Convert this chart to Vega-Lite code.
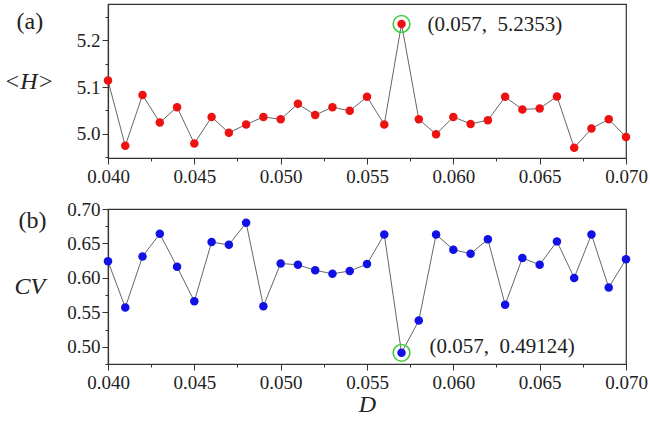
{
  "$schema": "https://vega.github.io/schema/vega-lite/v6.json",
  "padding": {"left": 2, "top": 3, "right": 5, "bottom": 0},
  "background": "white",
  "bounds": "flush",
  "spacing": 51,
  "datasets": {
    "series": [
      {"D": 0.040, "H": 5.114, "CV": 0.624},
      {"D": 0.041, "H": 4.974, "CV": 0.557},
      {"D": 0.042, "H": 5.083, "CV": 0.631},
      {"D": 0.043, "H": 5.024, "CV": 0.664},
      {"D": 0.044, "H": 5.057, "CV": 0.616},
      {"D": 0.045, "H": 4.979, "CV": 0.566},
      {"D": 0.046, "H": 5.036, "CV": 0.652},
      {"D": 0.047, "H": 5.002, "CV": 0.648},
      {"D": 0.048, "H": 5.020, "CV": 0.680},
      {"D": 0.049, "H": 5.036, "CV": 0.559},
      {"D": 0.050, "H": 5.031, "CV": 0.621},
      {"D": 0.051, "H": 5.064, "CV": 0.619},
      {"D": 0.052, "H": 5.040, "CV": 0.611},
      {"D": 0.053, "H": 5.057, "CV": 0.606},
      {"D": 0.054, "H": 5.049, "CV": 0.610},
      {"D": 0.055, "H": 5.079, "CV": 0.620},
      {"D": 0.056, "H": 5.020, "CV": 0.663},
      {"D": 0.057, "H": 5.2353, "CV": 0.49124},
      {"D": 0.058, "H": 5.031, "CV": 0.538},
      {"D": 0.059, "H": 4.999, "CV": 0.663},
      {"D": 0.060, "H": 5.036, "CV": 0.641},
      {"D": 0.061, "H": 5.021, "CV": 0.635},
      {"D": 0.062, "H": 5.029, "CV": 0.656},
      {"D": 0.063, "H": 5.079, "CV": 0.561},
      {"D": 0.064, "H": 5.052, "CV": 0.629},
      {"D": 0.065, "H": 5.054, "CV": 0.619},
      {"D": 0.066, "H": 5.080, "CV": 0.653},
      {"D": 0.067, "H": 4.970, "CV": 0.600},
      {"D": 0.068, "H": 5.011, "CV": 0.663},
      {"D": 0.069, "H": 5.031, "CV": 0.586},
      {"D": 0.070, "H": 4.993, "CV": 0.627}
    ],
    "peakH": [{"D": 0.057, "H": 5.2353, "label": "(0.057,\u00a0 5.2353)"}],
    "dipCV": [{"D": 0.057, "CV": 0.49124, "label": "(0.057,\u00a0 0.49124)"}]
  },
  "vconcat": [
    {
      "width": 518,
      "height": 154,
      "resolve": {"axis": {"y": "independent"}},
      "layer": [
        {
          "data": {"name": "series"},
          "mark": {"type": "line", "color": "#666666", "strokeWidth": 1},
          "encoding": {
            "x": {"field": "D", "type": "quantitative", "scale": {"domain": [0.04, 0.07], "nice": false, "zero": false},
                  "axis": {"values": [0.04, 0.0425, 0.045, 0.0475, 0.05, 0.0525, 0.055, 0.0575, 0.06, 0.0625, 0.065, 0.0675, 0.07],
                           "labelExpr": "abs(datum.value*200-round(datum.value*200))<0.01 ? format(datum.value, '.3f') : ''",
                           "tickSize": {"condition": {"test": "abs(datum.value*200-round(datum.value*200))<0.01", "value": 6}, "value": 3},
                           "labelOverlap": false,
                           "title": null}},
            "y": {"field": "H", "type": "quantitative", "scale": {"domain": [4.948, 5.278], "nice": false, "zero": false},
                  "axis": {"orient": "left", "values": [5.0, 5.1, 5.2], "format": ".1f", "tickSize": 6,
                           "labelOverlap": false,
                           "title": "<H>", "titleFontStyle": "italic", "titlePadding": 23}}
          }
        },
        {
          "data": {"name": "series"},
          "mark": {"type": "circle", "color": "#ee1111", "opacity": 1, "size": 72},
          "encoding": {
            "x": {"field": "D", "type": "quantitative"},
            "y": {"field": "H", "type": "quantitative",
                  "axis": {"orient": "left", "values": [4.95, 5.05, 5.15, 5.25], "labels": false, "domain": false, "tickSize": 3,
                           "title": "(a)", "titleAlign": "left", "titleBaseline": "top", "titleX": -92, "titleY": 5}}
          }
        },
        {
          "data": {"name": "peakH"},
          "mark": {"type": "point", "shape": "circle", "filled": false, "color": "#3fcc3f", "strokeWidth": 1.6, "size": 280, "opacity": 1},
          "encoding": {
            "x": {"field": "D", "type": "quantitative"},
            "y": {"field": "H", "type": "quantitative", "axis": null}
          }
        },
        {
          "data": {"name": "peakH"},
          "mark": {"type": "text", "align": "left", "baseline": "middle", "dx": 26, "dy": 1, "fontSize": 21, "color": "#222222"},
          "encoding": {
            "x": {"field": "D", "type": "quantitative"},
            "y": {"field": "H", "type": "quantitative", "axis": null},
            "text": {"field": "label"}
          }
        }
      ]
    },
    {
      "width": 518,
      "height": 155,
      "resolve": {"axis": {"y": "independent"}},
      "layer": [
        {
          "data": {"name": "series"},
          "mark": {"type": "line", "color": "#666666", "strokeWidth": 1},
          "encoding": {
            "x": {"field": "D", "type": "quantitative", "scale": {"domain": [0.04, 0.07], "nice": false, "zero": false},
                  "axis": {"values": [0.04, 0.0425, 0.045, 0.0475, 0.05, 0.0525, 0.055, 0.0575, 0.06, 0.0625, 0.065, 0.0675, 0.07],
                           "labelExpr": "abs(datum.value*200-round(datum.value*200))<0.01 ? format(datum.value, '.3f') : ''",
                           "tickSize": {"condition": {"test": "abs(datum.value*200-round(datum.value*200))<0.01", "value": 6}, "value": 3},
                           "labelOverlap": false,
                           "title": "D", "titleFontStyle": "italic", "titlePadding": 0}},
            "y": {"field": "CV", "type": "quantitative", "scale": {"domain": [0.475, 0.70], "nice": false, "zero": false},
                  "axis": {"orient": "left", "values": [0.5, 0.55, 0.6, 0.65, 0.7], "format": ".2f", "tickSize": 6,
                           "labelOverlap": false,
                           "title": "CV", "titleFontStyle": "italic", "titlePadding": 22}}
          }
        },
        {
          "data": {"name": "series"},
          "mark": {"type": "circle", "color": "#1111e6", "opacity": 1, "size": 72},
          "encoding": {
            "x": {"field": "D", "type": "quantitative"},
            "y": {"field": "CV", "type": "quantitative",
                  "axis": {"orient": "left", "values": [0.475, 0.525, 0.575, 0.625, 0.675], "labels": false, "domain": false, "tickSize": 3,
                           "title": "(b)", "titleAlign": "left", "titleBaseline": "top", "titleX": -90, "titleY": -1}}
          }
        },
        {
          "data": {"name": "dipCV"},
          "mark": {"type": "point", "shape": "circle", "filled": false, "color": "#3fcc3f", "strokeWidth": 1.6, "size": 280, "opacity": 1},
          "encoding": {
            "x": {"field": "D", "type": "quantitative"},
            "y": {"field": "CV", "type": "quantitative", "axis": null}
          }
        },
        {
          "data": {"name": "dipCV"},
          "mark": {"type": "text", "align": "left", "baseline": "middle", "dx": 28, "dy": -6, "fontSize": 21, "color": "#222222"},
          "encoding": {
            "x": {"field": "D", "type": "quantitative"},
            "y": {"field": "CV", "type": "quantitative", "axis": null},
            "text": {"field": "label"}
          }
        }
      ]
    }
  ],
  "config": {
    "font": "Liberation Serif",
    "view": {"stroke": "#333333", "strokeWidth": 1.2},
    "title": {"font": "Liberation Serif", "color": "#222222"},
    "text": {"font": "Liberation Serif"},
    "axis": {
      "grid": false,
      "domainColor": "#333333",
      "domainWidth": 1.2,
      "tickColor": "#333333",
      "tickWidth": 1,
      "labelFont": "Liberation Serif",
      "labelFontSize": 19,
      "labelColor": "#222222",
      "labelPadding": 2,
      "titleFont": "Liberation Serif",
      "titleFontSize": 24,
      "titleFontWeight": "normal",
      "titleColor": "#222222"
    },
    "axisY": {"titleAngle": 0, "titleAlign": "right", "titleBaseline": "middle"},
    "axisX": {"labelFlush": false, "labelPadding": 3}
  }
}
